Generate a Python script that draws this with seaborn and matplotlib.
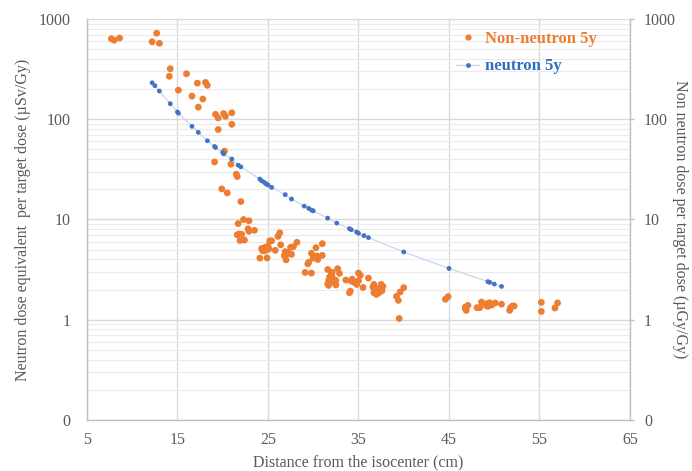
import matplotlib
matplotlib.use("Agg")
import matplotlib.pyplot as plt
import seaborn as sns
import pandas as pd
from matplotlib.ticker import FixedLocator, FixedFormatter, LogLocator, NullFormatter
from matplotlib.lines import Line2D

# ---- data ----
neutron_x = [12.2, 12.5, 13.0, 14.2, 15.0, 15.1, 16.6, 17.3, 18.3, 19.1, 19.2, 20.0, 20.1, 21.0,
             21.7, 22.0, 24.1, 24.3, 24.6, 24.8, 25.0, 25.4, 26.9, 27.6, 29.0, 29.5, 29.8, 30.0,
             31.6, 32.6, 34.0, 34.2, 34.8, 35.0, 35.6, 36.1, 40.0, 45.0, 49.3, 49.5, 50.0, 50.8]
neutron_y = [231, 216, 191, 143, 118, 115, 85, 74, 61, 53.5, 52.3, 46.6, 45.1, 40.1,
             34.8, 33.5, 25.3, 24.3, 23.4, 22.6, 22.1, 20.9, 17.7, 16.0, 13.6, 12.9, 12.4, 12.2,
             10.3, 9.2, 8.1, 7.9, 7.5, 7.3, 6.9, 6.6, 4.74, 3.25, 2.40, 2.36, 2.27, 2.15]

non_x = [7.7, 8.0, 8.6, 12.2, 12.7, 13.0, 14.2, 14.1, 16.0, 15.1, 17.2, 18.1, 18.3, 16.6, 17.8,
         17.3, 19.2, 19.5, 20.1, 20.3, 21.0, 19.5, 21.0, 20.2, 19.1, 20.9, 21.5, 21.6, 19.9, 20.5,
         22.0, 22.3, 22.9, 21.7, 22.8, 22.9, 23.5, 21.6, 21.8, 22.1, 21.9, 22.4, 26.3, 26.1, 25.2,
         25.4, 26.4, 28.2, 27.8, 27.5, 24.3, 24.5, 24.8, 25.0, 25.1, 24.8, 24.6, 24.4, 25.8, 26.9,
         27.2, 27.0, 27.6, 26.8, 24.1, 24.9, 27.0, 31.0, 30.3, 29.8, 31.0, 30.4, 30.0, 30.5, 29.5,
         29.4, 29.1, 29.8, 31.6, 32.7, 32.1, 32.0, 32.9, 31.8, 32.1, 31.7, 32.0, 32.5, 31.6, 31.7,
         32.5, 33.6, 34.3, 34.2, 34.5, 35.0, 34.8, 35.0, 35.2, 36.1, 35.5, 34.1, 34.0, 36.7, 36.6,
         37.5, 37.7, 36.9, 37.3, 36.7, 37.0, 37.3, 37.6, 40.0, 39.6, 39.2, 39.4, 39.5, 44.6, 44.9,
         46.8, 46.9, 47.1, 46.8, 48.1, 48.4, 48.6, 49.1, 49.2, 49.4, 49.3, 49.5, 49.7, 50.1, 50.8,
         51.7, 51.8, 52.0, 52.2, 55.2, 55.2, 56.7, 57.0]
non_y = [636, 614, 646, 592, 721, 572, 319, 268, 284, 195, 229, 233, 218, 170, 159,
         132, 112, 103, 114, 107, 116, 79, 89, 48, 37.5, 35.6, 28.3, 26.8, 20.2, 18.4,
         15.1, 9.98, 9.7, 9.1, 8.07, 7.62, 7.8, 7.03, 7.16, 7.11, 6.17, 6.23, 7.36, 6.79, 6.13,
         6.13, 5.59, 5.92, 5.34, 5.28, 5.12, 5.19, 5.31, 5.40, 5.07, 5.0, 4.85, 4.89, 4.92, 4.78,
         4.63, 4.46, 4.49, 4.36, 4.12, 4.14, 3.96, 5.74, 5.24, 4.6, 4.39, 4.32, 4.12, 3.99, 3.74,
         3.61, 2.96, 2.92, 3.17, 3.23, 2.97, 2.88, 2.90, 2.66, 2.65, 2.47, 2.40, 2.47, 2.27, 2.20,
         2.22, 2.49, 2.54, 2.43, 2.37, 2.45, 2.25, 2.92, 2.77, 2.60, 2.10, 1.93, 1.86, 2.25, 2.12,
         2.25, 2.15, 2.02, 2.07, 1.86, 1.79, 1.87, 1.95, 2.09, 1.89, 1.71, 1.56, 1.03, 1.60, 1.70,
         1.30, 1.24, 1.39, 1.34, 1.32, 1.32, 1.50, 1.39, 1.45, 1.43, 1.36, 1.48, 1.40, 1.47, 1.43,
         1.24, 1.32, 1.37, 1.37, 1.49, 1.21, 1.31, 1.47]

x_ticks = [5, 15, 25, 35, 45, 55, 65]
y_ticks = [0.1, 1, 10, 100, 1000]
y_tick_labels = ["0", "1", "10", "100", "1000"]

label_non = "Non-neutron 5y"
label_neu = "neutron 5y"
xlabel = "Distance from the isocenter (cm)"
ylabel_left = "Neutron dose equivalent  per target dose (\u00b5Sv/Gy)"
ylabel_right = "Non neutron dose per target dose (\u00b5Gy/Gy)"

ORANGE = "#ED7D31"
BLUE = "#4472C4"
LINE = "#C6D8EE"
TXT = "#595959"
GRID = "#D9D9D9"

# ---- style ----
sns.set_theme(style="white")
plt.rcParams['font.family'] = ['Liberation Serif', 'DejaVu Serif']

df_non = pd.DataFrame({"x": non_x, "y": non_y})
df_neu = pd.DataFrame({"x": neutron_x, "y": neutron_y})

fig = plt.figure(figsize=(6.92, 4.71), dpi=100)
ax = fig.add_axes([0.1257, 0.1083, 0.7847, 0.8514])

ax.set_yscale('log')
ax.set_xlim(5, 65)
ax.set_ylim(0.1, 1000)

ax.xaxis.set_major_locator(FixedLocator(x_ticks))
ax.yaxis.set_major_locator(FixedLocator(y_ticks))
ax.yaxis.set_major_formatter(FixedFormatter(y_tick_labels))
ax.yaxis.set_minor_locator(LogLocator(base=10, subs=[2, 3, 4, 5, 6, 7, 8, 9], numticks=20))
ax.yaxis.set_minor_formatter(NullFormatter())

ax.grid(which='major', axis='both', color=GRID, lw=1.0, zorder=0)
ax.grid(which='minor', axis='y', color='#EBEBEB', lw=0.8, zorder=0)
ax.set_axisbelow(True)

sns.lineplot(data=df_neu, x="x", y="y", ax=ax, color=LINE, lw=0.9, sort=True,
             estimator=None, zorder=2)
sns.scatterplot(data=df_non, x="x", y="y", ax=ax, color=ORANGE, s=24, edgecolor='none',
                linewidth=0, zorder=3)
sns.scatterplot(data=df_neu, x="x", y="y", ax=ax, color=BLUE, s=12, edgecolor='none',
                linewidth=0, zorder=4)

ax.tick_params(axis='both', which='both', length=0, labelsize=11.5, labelcolor=TXT)
ax.tick_params(axis='x', pad=9)
ax.tick_params(axis='y', pad=12)

for side in ['left', 'bottom']:
    ax.spines[side].set_color('#BFBFBF')
    ax.spines[side].set_linewidth(1.0)
ax.spines['top'].set_visible(False)
ax.spines['right'].set_visible(False)

ax.set_xlabel(xlabel, fontsize=11.5, color=TXT, labelpad=4)
ax.set_ylabel(ylabel_left, fontsize=11.5, color=TXT, labelpad=5)

# right axis
ax2 = ax.twinx()
ax2.set_yscale('log')
ax2.set_ylim(0.1, 1000)
ax2.yaxis.set_major_locator(FixedLocator(y_ticks))
ax2.yaxis.set_major_formatter(FixedFormatter(y_tick_labels))
ax2.yaxis.set_minor_locator(FixedLocator([]))
ax2.tick_params(axis='y', which='major', length=3, width=1, color='#BFBFBF', direction='out',
                labelsize=11.5, labelcolor=TXT, pad=7)
for side in ['left', 'bottom', 'top']:
    ax2.spines[side].set_visible(False)
ax2.spines['right'].set_color('#BFBFBF')
ax2.spines['right'].set_linewidth(1.0)
ax2.set_ylabel(ylabel_right, fontsize=11.5, color=TXT, rotation=270, labelpad=9)

handles = [
    Line2D([], [], marker='o', color=ORANGE, linestyle='none', markersize=4.5, markeredgewidth=0),
    Line2D([], [], marker='o', color=LINE, markerfacecolor=BLUE, markeredgewidth=0,
           linestyle='-', lw=1.0, markersize=3.5),
]
leg = ax2.legend(handles, [label_non, label_neu], loc='upper left',
                 bbox_to_anchor=(0.652, 1.008), frameon=False, handlelength=1.4,
                 handletextpad=0.35, labelspacing=0.7,
                 prop={'family': ['Liberation Serif'], 'weight': 'bold', 'size': 12})
for t, c in zip(leg.get_texts(), [ORANGE, "#2E6DC0"]):
    t.set_color(c)

fig.savefig("out.png", dpi=100)
